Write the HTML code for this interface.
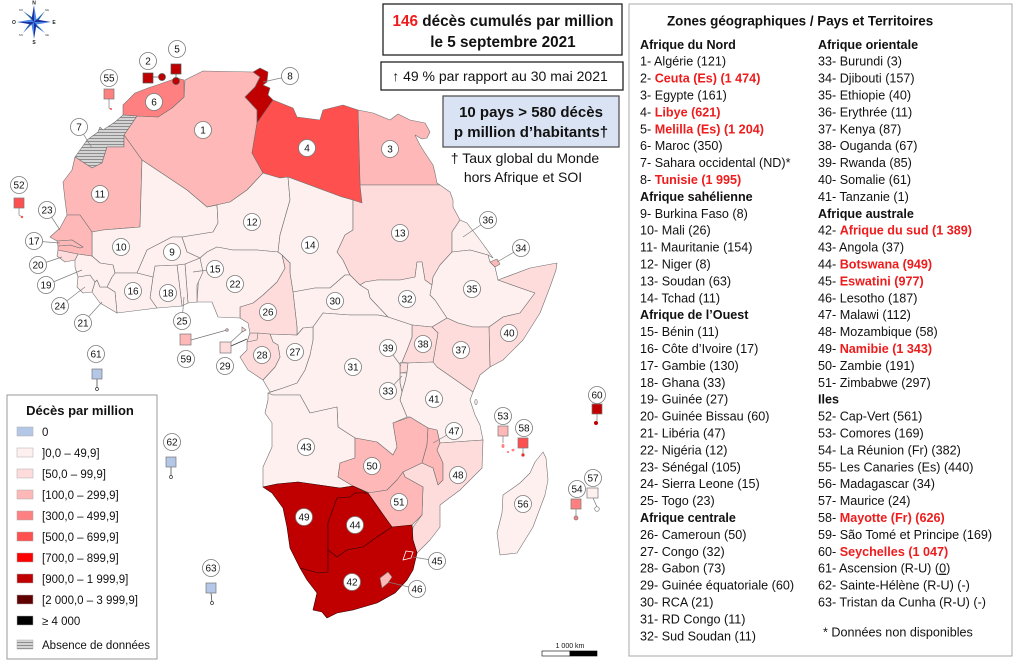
<!DOCTYPE html>
<html><head><meta charset="utf-8"><style>
html,body{margin:0;padding:0;background:#fff;}
svg{display:block;font-family:"Liberation Sans",Arial,sans-serif;}
.c{stroke:#707070;stroke-width:0.6;stroke-linejoin:round}
.c0{fill:#b4c7e7}.c1{fill:#fff0f0}.c2{fill:#ffdcdc}.c3{fill:#ffb8b8}.c4{fill:#ff8080}.c5{fill:#ff5050}.c7{fill:#c00000}
.lb circle{fill:#fff;stroke:#7a7a7a;stroke-width:0.8}
.lb text{font-size:10px;text-anchor:middle;fill:#111}
.ld{stroke:#808080;stroke-width:0.7;fill:none}
.t{font-size:12.6px;fill:#111}
.b{font-weight:bold}
.r{fill:#ee1c1c;font-weight:bold}
</style></head><body>
<svg width="1024" height="667" viewBox="0 0 1024 667" xmlns="http://www.w3.org/2000/svg">
<defs>
<pattern id="hatch" width="4" height="3" patternUnits="userSpaceOnUse"><rect width="4" height="3" fill="#d4d4d4"/><line x1="0" y1="0.5" x2="4" y2="0.5" stroke="#858585" stroke-width="0.9"/></pattern>
</defs>
<rect width="1024" height="667" fill="#fff"/>

<!-- compass -->
<g>
<polygon points="34,22 45,11 36,20" fill="#7fc8f0"/><polygon points="34,22 45,11 36,24" fill="#1a5fb0"/>
<polygon points="34,22 23,11 32,20" fill="#7fc8f0"/><polygon points="34,22 23,11 36,20" fill="#1a5fb0"/>
<polygon points="34,22 45,33 36,24" fill="#7fc8f0"/><polygon points="34,22 45,33 32,24" fill="#1a5fb0"/>
<polygon points="34,22 23,33 32,24" fill="#7fc8f0"/><polygon points="34,22 23,33 32,20" fill="#1a5fb0"/>
<polygon points="34,5 31.5,19.5 34,22" fill="#1c2f9e"/><polygon points="34,5 36.5,19.5 34,22" fill="#4a86e8"/>
<polygon points="34,39 36.5,24.5 34,22" fill="#1c2f9e"/><polygon points="34,39 31.5,24.5 34,22" fill="#4a86e8"/>
<polygon points="51,22 36.5,19.5 34,22" fill="#1c2f9e"/><polygon points="51,22 36.5,24.5 34,22" fill="#4a86e8"/>
<polygon points="17,22 31.5,24.5 34,22" fill="#1c2f9e"/><polygon points="17,22 31.5,19.5 34,22" fill="#4a86e8"/>
<g font-size="5" font-weight="bold" fill="#222" text-anchor="middle">
<text x="34" y="4.5">N</text><text x="34" y="44">S</text><text x="54" y="24">E</text><text x="14" y="24">O</text>
</g>
<g font-size="3" fill="#444" text-anchor="middle">
<text x="21" y="11">NO</text><text x="47" y="11">NE</text><text x="21" y="36">SO</text><text x="47" y="36">SE</text>
</g>
</g>

<!-- countries -->
<g class="c">
<polygon class="c3" points="185,80 203,71 253,72 260,77 255,87 245,97 257,110 257,123 252,153 263,173 247,190 230,202 207,207 187,190 157,170 142,160 124,135 137,116 158,117 172,108 184,97"/>
<polygon class="c3" points="358,110 373,113 390,120 398,114 410,120 425,123 430,132 427,138 422,139 415,135 420,145 425,153 433,165 435,173 437,183 440,185 360,185"/>
<polygon class="c5" points="273,100 293,108 297,117 320,120 323,110 343,105 358,110 360,185 362,203 353,200 342,197 288,177 280,178 263,173 252,153 257,123"/>
<polygon class="c4" points="123,105 135,93 148,88 160,84 177,78 184,80 184,97 172,108 158,117 137,116 123,115"/>
<polygon fill="url(#hatch)" points="123,115 137,116 124,135 124,147 107,147 102,163 92,168 75,157 80,150 87,140 98,132 100,127 103,130 115,122"/>
<polygon class="c7" points="253,72 260,68 268,72 267,82 263,85 270,88 268,95 273,100 257,123 257,110 245,97 255,87 260,77"/>
<polygon class="c3" points="75,157 92,168 102,163 107,147 124,147 124,135 142,160 140,227 103,230 92,232 80,215 67,215 65,200 63,182 72,170"/>
<polygon class="c1" points="142,160 157,170 187,190 207,207 217,205 218,223 213,232 182,237 172,237 147,250 137,273 115,273 113,265 100,263 92,256 92,232 103,230 140,227"/>
<polygon class="c1" points="207,207 230,202 247,190 263,173 280,178 288,177 290,200 280,235 278,252 257,250 233,250 217,247 207,252 200,258 187,252 182,237 213,232 218,223 217,205"/>
<polygon class="c1" points="288,177 342,197 353,200 353,230 345,235 337,252 343,260 350,275 345,275 330,288 315,288 293,292 290,273 290,263 282,255 278,252 280,235 290,200"/>
<polygon class="c2" points="360,185 440,185 450,192 453,200 453,207 460,220 452,232 452,252 440,265 433,277 432,285 425,280 422,262 417,262 415,277 400,280 377,280 365,282 360,285 350,275 343,260 337,252 345,235 353,230 353,200 362,203"/>
<polygon class="c1" points="360,285 365,282 377,280 400,280 415,277 417,262 422,262 425,280 432,285 430,295 435,300 447,318 432,327 412,325 388,317 370,298 368,290"/>
<polygon class="c1" points="460,220 467,223 480,240 493,258 488,255 470,250 452,252 452,232"/>
<polygon class="c1" points="452,252 470,250 488,255 490,262 495,267 498,280 535,293 520,313 503,317 489,327 473,327 458,323 447,318 435,300 430,295 432,285 433,277 440,265"/>
<polygon class="c3" points="490,262 497,259 500,264 495,267"/>
<polygon class="c2" points="498,280 530,268 557,263 556,270 550,287 540,313 523,340 503,360 490,367 489,327 503,317 520,313 535,293"/>
<polygon class="c2" points="432,327 447,318 458,323 473,327 489,327 490,367 480,375 473,392 437,367 433,362 438,333"/>
<polygon class="c2" points="412,325 432,327 438,333 433,362 408,363 402,362 407,350 412,337"/>
<polygon class="c2" points="400,363 408,363 407,372 400,373"/>
<polygon class="c1" points="400,373 407,373 405,382 402,392 400,383"/>
<polygon class="c1" points="408,363 433,362 437,367 473,392 470,400 475,415 480,425 483,440 440,443 437,430 428,428 410,417 407,417 400,400 402,392 405,382 407,373 407,372"/>
<polygon class="c1" points="293,292 315,288 330,288 345,275 350,275 360,285 368,290 370,298 388,317 378,315 350,315 323,313 313,327 303,328 297,335 297,327"/>
<polygon class="c1" points="313,327 323,313 350,315 378,315 388,317 412,325 412,337 407,350 402,362 400,363 400,373 400,383 402,392 400,400 407,417 393,423 397,447 393,455 377,442 355,438 338,427 337,407 310,413 300,395 273,395 268,393 283,388 297,383 305,370 310,355 313,340"/>
<polygon class="c1" points="270,334 297,335 303,328 313,327 313,340 310,355 305,370 297,383 283,388 270,392 263,380 275,367 280,357 278,345 273,342"/>
<polygon class="c2" points="250,333 258,333 270,334 273,342 278,345 280,357 275,367 263,380 248,370 240,357 247,350 247,342"/>
<polygon class="c2" points="250,333 258,333 257,340 247,342"/>
<polygon class="c2" points="282,255 290,263 290,273 293,292 297,327 297,335 270,334 258,333 250,333 248,323 240,318 240,307 253,303 263,295 277,282 285,268"/>
<polygon class="c1" points="197,302 200,258 207,252 217,247 233,250 257,250 278,252 282,255 285,268 277,282 263,295 253,303 240,307 240,318 218,317 212,302"/>
<polygon class="c1" points="185,264 200,258 203,272 197,285 197,302 188,303"/>
<polygon class="c1" points="177,265 185,264 188,303 182,306"/>
<polygon class="c1" points="155,266 177,265 182,306 157,308 150,298 153,277"/>
<polygon class="c1" points="137,273 147,250 172,237 182,237 187,252 200,258 185,264 177,265 155,266 153,277"/>
<polygon class="c1" points="115,273 137,273 153,277 150,298 157,308 117,313 115,292 107,287 112,277"/>
<polygon class="c1" points="95,282 97,280 100,287 107,287 115,292 117,313 100,303 92,292"/>
<polygon class="c1" points="78,277 90,275 95,282 92,292 83,293 77,287"/>
<polygon class="c1" points="78,254 92,256 100,263 113,265 115,273 112,277 107,287 100,287 97,280 95,282 90,275 78,277 75,267 75,260"/>
<polygon class="c2" points="58,250 78,254 75,260 65,262 57,256"/>
<polygon class="c3" points="67,215 80,215 92,232 92,256 78,254 58,250 58,246 70,245 80,248 83,247 72,240 57,241 50,237 60,228"/>
<polygon class="c3" points="57,241 72,240 83,247 80,248 70,245 58,246"/>
<polygon class="c1" points="268,393 273,395 300,395 310,413 337,407 338,427 355,438 355,458 340,463 338,477 353,486 340,488 298,482 277,484 263,487 263,467 272,447 272,423 265,413 268,400"/>
<polygon class="c3" points="355,438 377,442 393,455 397,447 393,423 410,417 428,428 427,445 422,463 403,472 397,480 387,490 370,493 353,486 338,477 340,463 355,458"/>
<polygon class="c3" points="428,428 437,430 440,443 437,450 443,463 443,480 438,485 433,468 422,463 427,445"/>
<polygon class="c2" points="440,443 483,440 482,468 460,490 440,505 440,527 430,540 417,553 412,537 413,527 422,515 423,487 405,477 403,472 422,463 433,468 438,485 443,480 443,463 437,450"/>
<polygon class="c3" points="368,493 387,490 397,480 403,472 405,477 423,487 422,515 412,525 392,527 382,513"/>
<polygon class="c7" points="263,487 277,484 298,482 340,488 353,486 368,493 355,493 350,497 337,498 328,523 328,572 318,573 300,568 290,548 287,527 283,508 272,493" stroke="#3a0000"/>
<polygon class="c7" points="337,498 350,497 355,493 368,493 382,513 392,527 377,537 363,547 347,550 337,557 328,550 328,523" stroke="#3a0000"/>
<polygon class="c7" points="328,572 328,550 337,557 347,550 363,547 377,537 392,527 412,525 413,540 417,553 413,570 407,580 395,593 377,603 353,610 337,613 327,618 322,612 313,610 317,593 307,580 300,568 318,573" stroke="#3a0000"/>
<polygon class="c3" points="380,578 388,572 392,577 388,583 382,588"/>
<polygon class="c7" points="403,560 406,551 413,552 411,558" stroke="#fff" stroke-width="0.8"/>
<polygon class="c1" points="543,452 546,458 548,480 545,495 533,527 525,540 517,553 500,555 497,533 502,513 503,495 520,483 530,473 535,462"/>
<ellipse cx="476" cy="402" rx="1.2" ry="2.5" fill="#fff0f0"/>
</g>

<!-- small territories / islands -->
<g stroke="#555" stroke-width="0.7">
<line x1="153" y1="77" x2="159" y2="77"/>
<rect x="143" y="73" width="10" height="10" fill="#c00000"/>
<circle cx="162" cy="77" r="3.5" fill="#c00000"/>
<line x1="176" y1="74" x2="176" y2="78"/>
<rect x="171" y="64" width="10" height="10" fill="#c00000"/>
<circle cx="176" cy="81" r="3.5" fill="#c00000"/>
</g>
<g stroke="#777" stroke-width="0.7">
<polyline class="ld" points="109,99 109,108 111,109"/>
<rect x="104" y="89" width="10" height="10" fill="#ff8080"/>
<circle cx="111" cy="109" r="1" fill="#ff5050" stroke="none"/>
<polyline class="ld" points="19,208 19,215 22,217"/>
<rect x="14" y="198" width="10" height="10" fill="#ff5050"/>
<circle cx="22" cy="217" r="1.2" fill="#ff5050" stroke="none"/>
<line x1="191" y1="340" x2="227" y2="330"/>
<rect x="180" y="334" width="11" height="11" fill="#ffb8b8"/>
<circle cx="227" cy="330" r="1.3" fill="#ffb8b8"/>
<line x1="231" y1="342" x2="243" y2="331"/>
<line x1="231" y1="346" x2="247" y2="339" stroke="#333"/>
<rect x="220" y="342" width="11" height="11" fill="#ffdcdc"/>
<polygon points="242,327 246,330 242,332" fill="#ffdcdc"/>
<line x1="97" y1="379" x2="97" y2="388" stroke="#333"/>
<rect x="92" y="369" width="10" height="10" fill="#b4c7e7"/>
<circle cx="97" cy="389" r="1.5" fill="#fff" stroke="#333"/>
<line x1="171" y1="467" x2="171" y2="476" stroke="#333"/>
<rect x="166" y="457" width="10" height="10" fill="#b4c7e7"/>
<circle cx="171" cy="477" r="1.5" fill="#fff" stroke="#333"/>
<line x1="211" y1="593" x2="212" y2="602" stroke="#333"/>
<rect x="206" y="583" width="10" height="10" fill="#b4c7e7"/>
<circle cx="212" cy="603" r="1.5" fill="#fff" stroke="#333"/>
<line x1="597" y1="414" x2="597" y2="421"/>
<rect x="592" y="404" width="10" height="10" fill="#c00000"/>
<circle cx="596" cy="423" r="2" fill="#c00000" stroke="none"/>
<line x1="503" y1="436" x2="503" y2="443"/>
<rect x="498" y="426" width="10" height="10" fill="#ffb8b8"/>
<ellipse cx="503" cy="446" rx="1.5" ry="2" fill="#ff8080" stroke="none"/>
<ellipse cx="508" cy="452" rx="1.3" ry="1" fill="#ff8080" stroke="none"/>
<ellipse cx="513" cy="450" rx="1.5" ry="1.3" fill="#ff8080" stroke="none"/>
<line x1="523" y1="448" x2="523" y2="454"/>
<rect x="518" y="438" width="10" height="10" fill="#ff5050"/>
<circle cx="523" cy="455" r="1.6" fill="#e03030" stroke="none"/>
<line x1="576" y1="509" x2="576" y2="516"/>
<rect x="571" y="499" width="10" height="10" fill="#ff8080"/>
<circle cx="576" cy="518" r="2" fill="#ff8080"/>
<line x1="593" y1="498" x2="597" y2="507"/>
<rect x="587" y="488" width="11" height="10" fill="#fff0f0"/>
<circle cx="597" cy="509" r="2.3" fill="#fff"/>
</g>

<!-- leader lines -->
<g class="ld">
<line x1="79" y1="127" x2="92" y2="148"/>
<line x1="290" y1="76" x2="263" y2="82"/>
<line x1="47" y1="210" x2="60" y2="230"/>
<line x1="34" y1="241" x2="60" y2="243"/>
<line x1="38" y1="265" x2="62" y2="257"/>
<line x1="215" y1="269" x2="193" y2="272"/>
<line x1="46" y1="285" x2="82" y2="270"/>
<line x1="60" y1="306" x2="85" y2="287"/>
<line x1="83" y1="323" x2="102" y2="302"/>
<line x1="182" y1="321" x2="184" y2="297"/>
<line x1="388" y1="348" x2="401" y2="366"/>
<line x1="388" y1="391" x2="402" y2="376"/>
<line x1="488" y1="220" x2="463" y2="237"/>
<line x1="521" y1="248" x2="497" y2="262"/>
<line x1="437" y1="561" x2="413" y2="557"/>
<line x1="417" y1="589" x2="388" y2="582"/>
<line x1="454" y1="431" x2="433" y2="443"/>
</g>

<!-- labels -->
<g class="lb">
<g><circle cx="203" cy="130" r="8.5"/><text x="203" y="133.5">1</text></g>
<g><circle cx="148" cy="61" r="8.5"/><text x="148" y="64.5">2</text></g>
<g><circle cx="390" cy="149" r="8.5"/><text x="390" y="152.5">3</text></g>
<g><circle cx="307" cy="148" r="8.5"/><text x="307" y="151.5">4</text></g>
<g><circle cx="177" cy="49" r="8.5"/><text x="177" y="52.5">5</text></g>
<g><circle cx="154" cy="102" r="8.5"/><text x="154" y="105.5">6</text></g>
<g><circle cx="79" cy="127" r="8.5"/><text x="79" y="130.5">7</text></g>
<g><circle cx="290" cy="76" r="8.5"/><text x="290" y="79.5">8</text></g>
<g><circle cx="172" cy="252" r="8.5"/><text x="172" y="255.5">9</text></g>
<g><circle cx="121" cy="247" r="8.5"/><text x="121" y="250.5">10</text></g>
<g><circle cx="100" cy="194" r="8.5"/><text x="100" y="197.5">11</text></g>
<g><circle cx="252" cy="222" r="8.5"/><text x="252" y="225.5">12</text></g>
<g><circle cx="400" cy="233" r="8.5"/><text x="400" y="236.5">13</text></g>
<g><circle cx="310" cy="245" r="8.5"/><text x="310" y="248.5">14</text></g>
<g><circle cx="215" cy="269" r="8.5"/><text x="215" y="272.5">15</text></g>
<g><circle cx="133" cy="291" r="8.5"/><text x="133" y="294.5">16</text></g>
<g><circle cx="34" cy="241" r="8.5"/><text x="34" y="244.5">17</text></g>
<g><circle cx="168" cy="293" r="8.5"/><text x="168" y="296.5">18</text></g>
<g><circle cx="46" cy="285" r="8.5"/><text x="46" y="288.5">19</text></g>
<g><circle cx="38" cy="265" r="8.5"/><text x="38" y="268.5">20</text></g>
<g><circle cx="83" cy="323" r="8.5"/><text x="83" y="326.5">21</text></g>
<g><circle cx="235" cy="284" r="8.5"/><text x="235" y="287.5">22</text></g>
<g><circle cx="47" cy="210" r="8.5"/><text x="47" y="213.5">23</text></g>
<g><circle cx="60" cy="306" r="8.5"/><text x="60" y="309.5">24</text></g>
<g><circle cx="182" cy="321" r="8.5"/><text x="182" y="324.5">25</text></g>
<g><circle cx="268" cy="312" r="8.5"/><text x="268" y="315.5">26</text></g>
<g><circle cx="295" cy="352" r="8.5"/><text x="295" y="355.5">27</text></g>
<g><circle cx="262" cy="355" r="8.5"/><text x="262" y="358.5">28</text></g>
<g><circle cx="225" cy="366" r="8.5"/><text x="225" y="369.5">29</text></g>
<g><circle cx="335" cy="301" r="8.5"/><text x="335" y="304.5">30</text></g>
<g><circle cx="353" cy="367" r="8.5"/><text x="353" y="370.5">31</text></g>
<g><circle cx="407" cy="299" r="8.5"/><text x="407" y="302.5">32</text></g>
<g><circle cx="388" cy="391" r="8.5"/><text x="388" y="394.5">33</text></g>
<g><circle cx="521" cy="248" r="8.5"/><text x="521" y="251.5">34</text></g>
<g><circle cx="472" cy="289" r="8.5"/><text x="472" y="292.5">35</text></g>
<g><circle cx="488" cy="220" r="8.5"/><text x="488" y="223.5">36</text></g>
<g><circle cx="461" cy="350" r="8.5"/><text x="461" y="353.5">37</text></g>
<g><circle cx="423" cy="344" r="8.5"/><text x="423" y="347.5">38</text></g>
<g><circle cx="388" cy="348" r="8.5"/><text x="388" y="351.5">39</text></g>
<g><circle cx="509" cy="333" r="8.5"/><text x="509" y="336.5">40</text></g>
<g><circle cx="434" cy="399" r="8.5"/><text x="434" y="402.5">41</text></g>
<g><circle cx="352" cy="582" r="8.5"/><text x="352" y="585.5">42</text></g>
<g><circle cx="306" cy="447" r="8.5"/><text x="306" y="450.5">43</text></g>
<g><circle cx="355" cy="525" r="8.5"/><text x="355" y="528.5">44</text></g>
<g><circle cx="437" cy="561" r="8.5"/><text x="437" y="564.5">45</text></g>
<g><circle cx="417" cy="589" r="8.5"/><text x="417" y="592.5">46</text></g>
<g><circle cx="454" cy="431" r="8.5"/><text x="454" y="434.5">47</text></g>
<g><circle cx="458" cy="475" r="8.5"/><text x="458" y="478.5">48</text></g>
<g><circle cx="304" cy="517" r="8.5"/><text x="304" y="520.5">49</text></g>
<g><circle cx="372" cy="466" r="8.5"/><text x="372" y="469.5">50</text></g>
<g><circle cx="399" cy="502" r="8.5"/><text x="399" y="505.5">51</text></g>
<g><circle cx="19" cy="185" r="8.5"/><text x="19" y="188.5">52</text></g>
<g><circle cx="503" cy="416" r="8.5"/><text x="503" y="419.5">53</text></g>
<g><circle cx="577" cy="489" r="8.5"/><text x="577" y="492.5">54</text></g>
<g><circle cx="109" cy="78" r="8.5"/><text x="109" y="81.5">55</text></g>
<g><circle cx="523" cy="504" r="8.5"/><text x="523" y="507.5">56</text></g>
<g><circle cx="593" cy="478" r="8.5"/><text x="593" y="481.5">57</text></g>
<g><circle cx="524" cy="428" r="8.5"/><text x="524" y="431.5">58</text></g>
<g><circle cx="186" cy="359" r="8.5"/><text x="186" y="362.5">59</text></g>
<g><circle cx="597" cy="395" r="8.5"/><text x="597" y="398.5">60</text></g>
<g><circle cx="96" cy="354" r="8.5"/><text x="96" y="357.5">61</text></g>
<g><circle cx="172" cy="442" r="8.5"/><text x="172" y="445.5">62</text></g>
<g><circle cx="211" cy="568" r="8.5"/><text x="211" y="571.5">63</text></g>
</g>

<!-- scale bar -->
<rect x="542" y="651" width="28" height="5" fill="#fff" stroke="#000" stroke-width="0.6"/>
<rect x="570" y="651" width="27" height="5" fill="#000" stroke="#000" stroke-width="0.6"/>
<text x="570" y="648" font-size="7" text-anchor="middle" fill="#111">1 000 km</text>

<!-- top boxes -->
<rect x="383" y="4" width="239" height="51" fill="#fff" stroke="#222" stroke-width="1.3"/>
<text x="503" y="26" font-size="15.3" font-weight="bold" text-anchor="middle" fill="#111"><tspan fill="#ee1c1c">146</tspan> décès cumulés par million</text>
<text x="503" y="47" font-size="15.3" font-weight="bold" text-anchor="middle" fill="#111">le 5 septembre 2021</text>
<rect x="381" y="62" width="242" height="28" fill="#fff" stroke="#222" stroke-width="1.3"/>
<text x="500" y="81" font-size="14" text-anchor="middle" fill="#111">↑ 49 % par rapport au 30 mai 2021</text>
<rect x="443" y="96" width="176" height="51" fill="#dae3f3" stroke="#555" stroke-width="1.3"/>
<text x="531" y="117" font-size="15" font-weight="bold" text-anchor="middle" fill="#111">10 pays &gt; 580 décès</text>
<text x="531" y="137" font-size="15" font-weight="bold" text-anchor="middle" fill="#111">p million d’habitants†</text>
<text x="525" y="163" font-size="14" text-anchor="middle" fill="#111">† Taux global du Monde</text>
<text x="523" y="182" font-size="14" text-anchor="middle" fill="#111">hors Afrique et SOI</text>

<!-- legend -->
<rect x="7" y="395" width="150" height="264" fill="#fff" stroke="#999" stroke-width="1"/>
<text x="80" y="415" font-size="13" font-weight="bold" text-anchor="middle" fill="#111">Décès par million</text>
<g stroke="#aaa" stroke-width="0.5">
<rect x="17" y="427" width="16" height="9" fill="#b4c7e7"/>
<rect x="17" y="448" width="16" height="9" fill="#fff0f0"/>
<rect x="17" y="469" width="16" height="9" fill="#ffdcdc"/>
<rect x="17" y="490" width="16" height="9" fill="#ffb8b8"/>
<rect x="17" y="511" width="16" height="9" fill="#ff8080"/>
<rect x="17" y="532" width="16" height="9" fill="#ff5050"/>
<rect x="17" y="553" width="16" height="9" fill="#ff0000"/>
<rect x="17" y="574" width="16" height="9" fill="#c00000"/>
<rect x="17" y="595" width="16" height="9" fill="#600000"/>
<rect x="17" y="616" width="16" height="9" fill="#000"/>
<rect x="17" y="640" width="16" height="9" fill="url(#hatch)"/>
</g>
<g font-size="11.5" fill="#111">
<text x="42" y="436">0</text>
<text x="42" y="457">]0,0 – 49,9]</text>
<text x="42" y="478">[50,0 – 99,9]</text>
<text x="42" y="499">[100,0 – 299,9]</text>
<text x="42" y="520">[300,0 – 499,9]</text>
<text x="42" y="541">[500,0 – 699,9]</text>
<text x="42" y="562">[700,0 – 899,9]</text>
<text x="42" y="583">[900,0 – 1 999,9]</text>
<text x="42" y="604">[2 000,0 – 3 999,9]</text>
<text x="42" y="625">≥ 4 000</text>
<text x="42" y="649">Absence de données</text>
</g>

<!-- right panel -->
<rect x="629" y="4" width="383" height="652" fill="#fff" stroke="#aaa" stroke-width="1"/>
<text x="667" y="25.5" font-size="13.4" font-weight="bold" fill="#111">Zones géographiques / Pays et Territoires</text>
<g class="t">
<text x="640" y="48.8" class="b">Afrique du Nord</text>
<text x="640" y="65.7">1- Algérie (121)</text>
<text x="640" y="82.6">2- <tspan class="r">Ceuta  (Es) (1 474)</tspan></text>
<text x="640" y="99.5">3- Egypte (161)</text>
<text x="640" y="116.4">4- <tspan class="r">Libye (621)</tspan></text>
<text x="640" y="133.3">5- <tspan class="r">Melilla (Es) (1 204)</tspan></text>
<text x="640" y="150.2">6- Maroc (350)</text>
<text x="640" y="167.1">7- Sahara occidental (ND)*</text>
<text x="640" y="184">8- <tspan class="r">Tunisie (1 995)</tspan></text>
<text x="640" y="200.9" class="b">Afrique sahélienne</text>
<text x="640" y="217.8">9- Burkina Faso (8)</text>
<text x="640" y="234.7">10- Mali (26)</text>
<text x="640" y="251.6">11- Mauritanie (154)</text>
<text x="640" y="268.5">12- Niger (8)</text>
<text x="640" y="285.4">13- Soudan (63)</text>
<text x="640" y="302.3">14- Tchad (11)</text>
<text x="640" y="319.2" class="b">Afrique de l’Ouest</text>
<text x="640" y="336.1">15- Bénin (11)</text>
<text x="640" y="353">16- Côte d’Ivoire (17)</text>
<text x="640" y="369.9">17- Gambie (130)</text>
<text x="640" y="386.8">18- Ghana (33)</text>
<text x="640" y="403.7">19- Guinée (27)</text>
<text x="640" y="420.6">20- Guinée Bissau (60)</text>
<text x="640" y="437.5">21- Libéria (47)</text>
<text x="640" y="454.4">22- Nigéria (12)</text>
<text x="640" y="471.3">23- Sénégal (105)</text>
<text x="640" y="488.2">24- Sierra Leone (15)</text>
<text x="640" y="505.1">25- Togo (23)</text>
<text x="640" y="522" class="b">Afrique centrale</text>
<text x="640" y="538.9">26- Cameroun (50)</text>
<text x="640" y="555.8">27- Congo (32)</text>
<text x="640" y="572.7">28- Gabon (73)</text>
<text x="640" y="589.6">29- Guinée équatoriale (60)</text>
<text x="640" y="606.5">30- RCA (21)</text>
<text x="640" y="623.4">31- RD Congo (11)</text>
<text x="640" y="640.3">32- Sud Soudan (11)</text>

<text x="818" y="48.8" class="b">Afrique orientale</text>
<text x="818" y="65.7">33- Burundi (3)</text>
<text x="818" y="82.6">34- Djibouti (157)</text>
<text x="818" y="99.5">35- Ethiopie (40)</text>
<text x="818" y="116.4">36- Erythrée (11)</text>
<text x="818" y="133.3">37- Kenya (87)</text>
<text x="818" y="150.2">38- Ouganda (67)</text>
<text x="818" y="167.1">39- Rwanda (85)</text>
<text x="818" y="184">40- Somalie (61)</text>
<text x="818" y="200.9">41- Tanzanie (1)</text>
<text x="818" y="217.8" class="b">Afrique australe</text>
<text x="818" y="234.7">42- <tspan class="r">Afrique du sud (1 389)</tspan></text>
<text x="818" y="251.6">43- Angola (37)</text>
<text x="818" y="268.5">44- <tspan class="r">Botswana (949)</tspan></text>
<text x="818" y="285.4">45- <tspan class="r">Eswatini (977)</tspan></text>
<text x="818" y="302.3">46- Lesotho (187)</text>
<text x="818" y="319.2">47- Malawi (112)</text>
<text x="818" y="336.1">48- Mozambique (58)</text>
<text x="818" y="353">49- <tspan class="r">Namibie (1 343)</tspan></text>
<text x="818" y="369.9">50- Zambie (191)</text>
<text x="818" y="386.8">51- Zimbabwe (297)</text>
<text x="818" y="403.7" class="b">Iles</text>
<text x="818" y="420.6">52- Cap-Vert (561)</text>
<text x="818" y="437.5">53- Comores (169)</text>
<text x="818" y="454.4">54- La Réunion (Fr) (382)</text>
<text x="818" y="471.3">55- Les Canaries (Es) (440)</text>
<text x="818" y="488.2">56- Madagascar (34)</text>
<text x="818" y="505.1">57- Maurice (24)</text>
<text x="818" y="522">58- <tspan class="r">Mayotte (Fr) (626)</tspan></text>
<text x="818" y="538.9">59- São Tomé et Principe (169)</text>
<text x="818" y="555.8">60- <tspan class="r">Seychelles (1 047)</tspan></text>
<text x="818" y="572.7">61- Ascension (R-U) (<tspan text-decoration="underline">0</tspan>)</text>
<text x="818" y="589.6">62- Sainte-Hélène (R-U) (-)</text>
<text x="818" y="606.5">63- Tristan da Cunha (R-U) (-)</text>
<text x="823" y="636.5">* Données non disponibles</text>
</g>
</svg>
</body></html>
